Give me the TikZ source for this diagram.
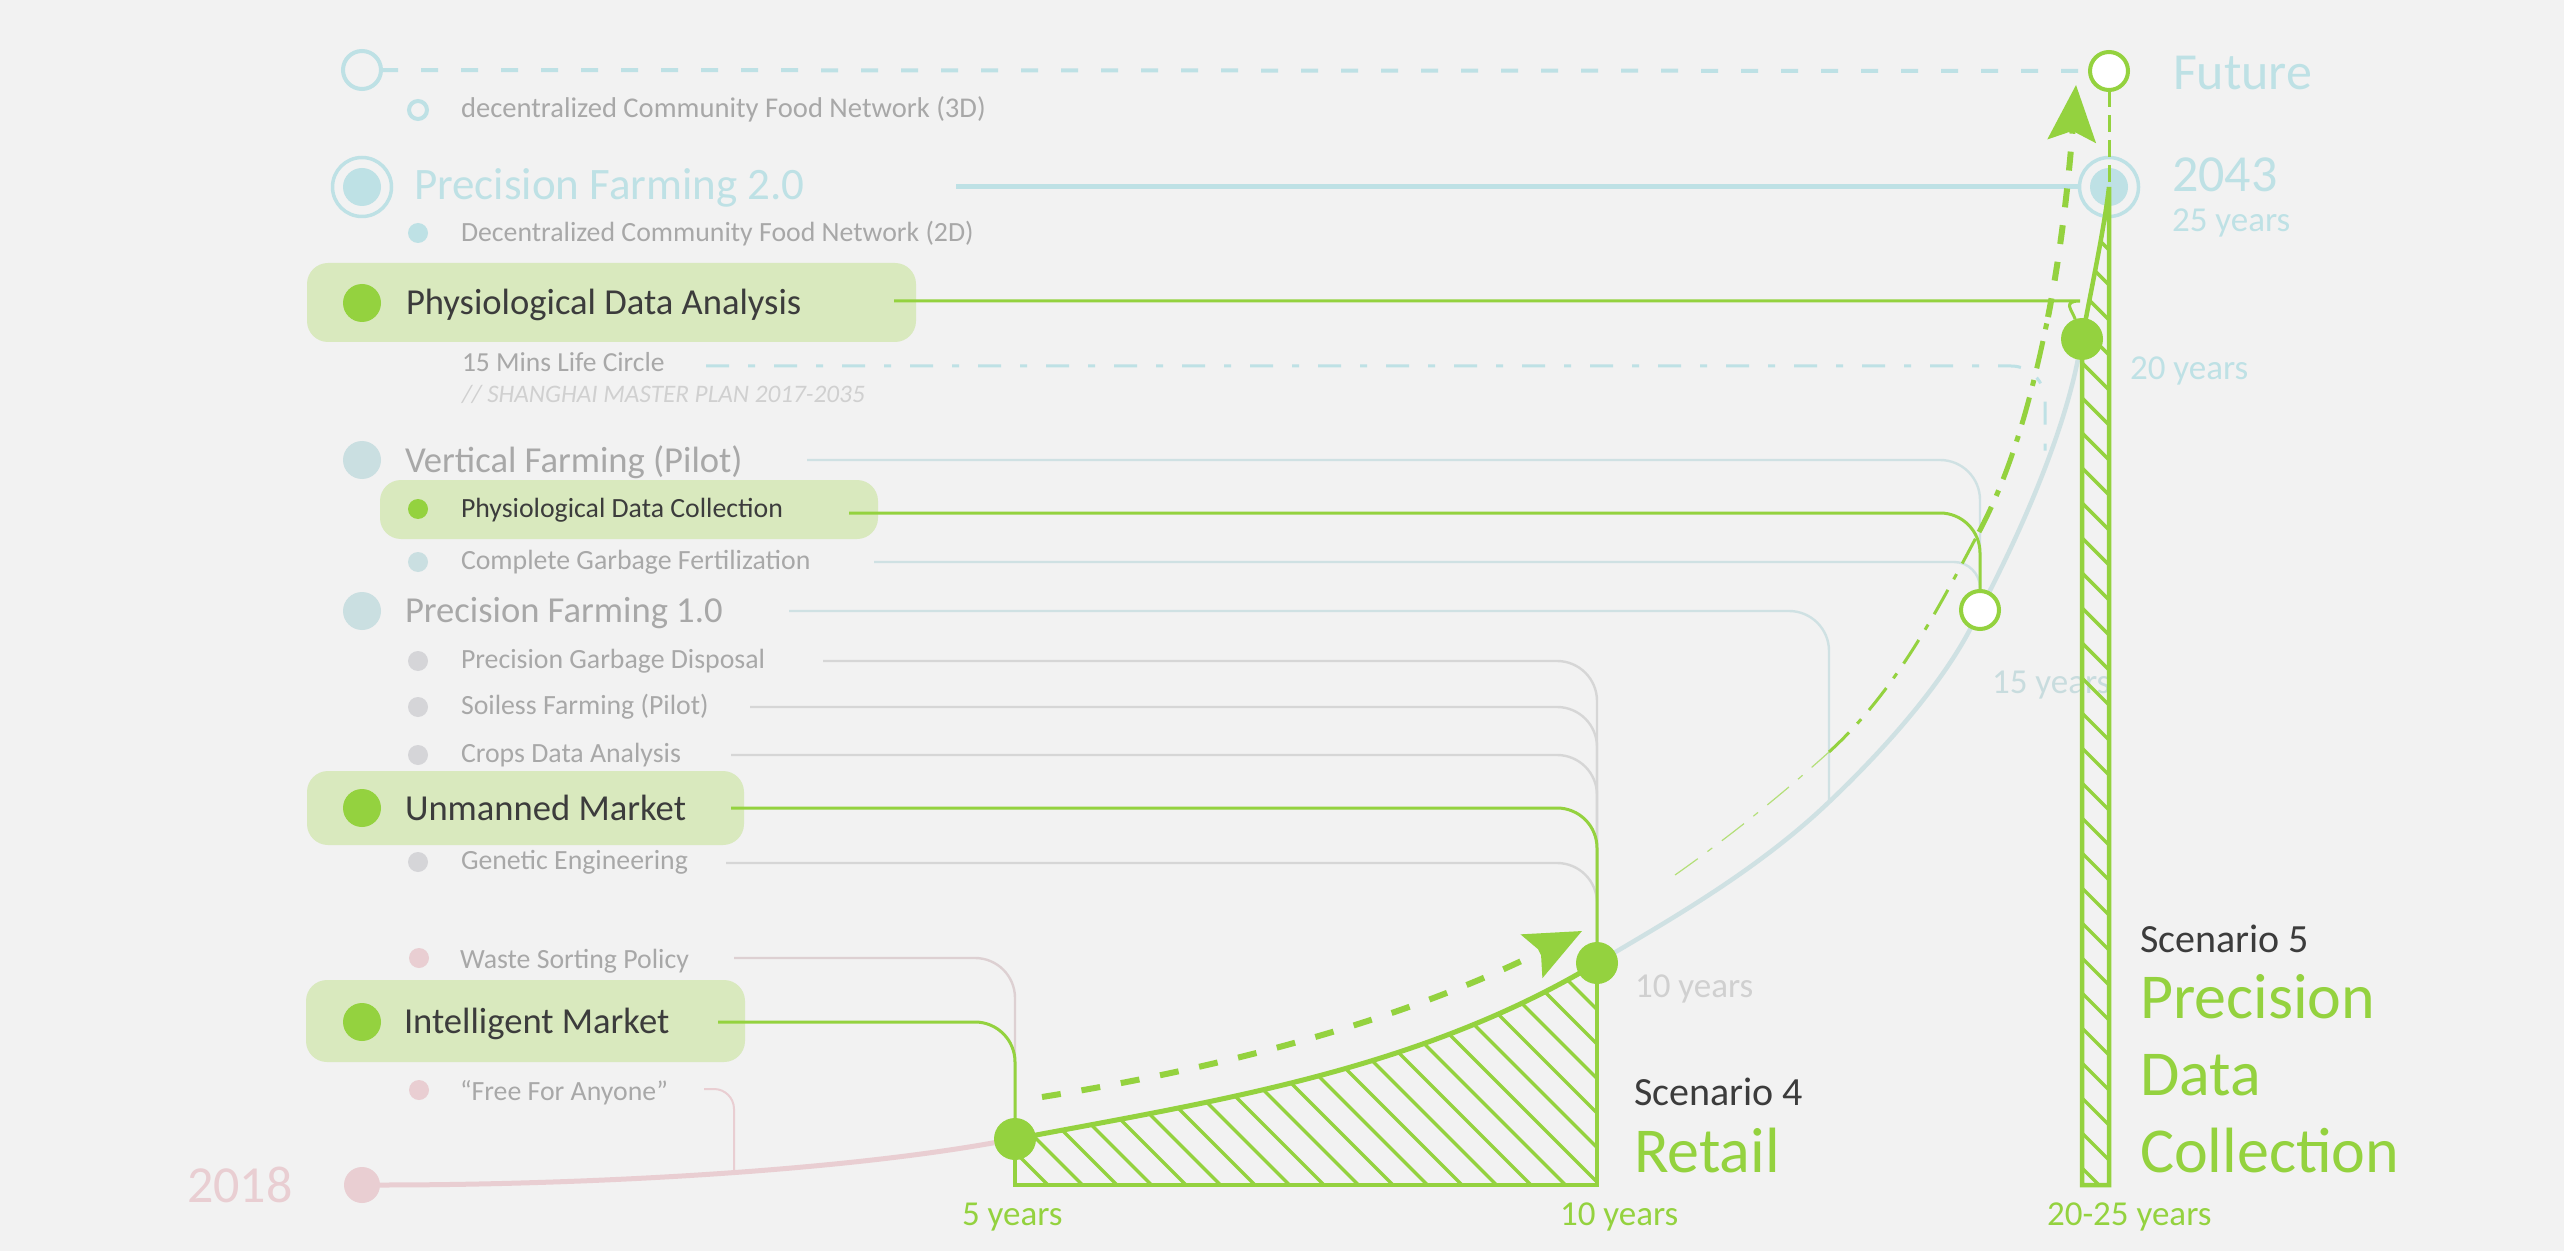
\documentclass[tikz,border=0pt]{standalone}
\usepackage{fontspec}
\setmainfont{Carlito}
\usetikzlibrary{arrows.meta,calc,positioning}
\definecolor{bgc}{HTML}{F2F2F2}
\definecolor{grn}{HTML}{94D23F}
\definecolor{grnbox}{HTML}{D9E9BE}
\definecolor{ink}{HTML}{3C3C3C}
\definecolor{cyn}{HTML}{BEE1E5}
\definecolor{cyngr}{HTML}{CADFE1}
\definecolor{cynl}{HTML}{CFE1E3}
\definecolor{cyngt}{HTML}{C8DCDE}
\definecolor{gryd}{HTML}{D5D5D8}
\definecolor{gryl}{HTML}{D6D6D6}
\definecolor{gryt}{HTML}{A8A8A8}
\definecolor{grylt}{HTML}{D0D0D0}
\definecolor{pnk}{HTML}{E9CED2}
\definecolor{pnkl}{HTML}{DDD0D2}
\pgfdeclarelayer{back}
\pgfdeclarelayer{wires}
\pgfsetlayers{back,wires,main}
\tikzset{
    >=Stealth,
    plan/.style={
        bullet/.append style={circle,inner sep=0pt,outer sep=0pt,minimum size=19pt},
        pip/.append style={circle,inner sep=0pt,outer sep=0pt,minimum size=10pt},
        halo/.append style={circle,draw=cyn,line width=1.75pt,inner sep=0pt,outer sep=0pt,minimum size=29.5pt},
        hollow/.append style={circle,draw=grn,fill=white,line width=2pt,inner sep=0pt,outer sep=0pt,minimum size=19pt},
        gbox/.append style={rectangle,rounded corners=10.5pt,fill=grnbox,inner sep=0pt},
        lbl/.append style={anchor=base west,inner sep=0pt,outer sep=0pt},
        wire/.append style={draw=gryl,line width=1.2pt,rounded corners=20pt},
        flow/.append style={draw=grn,line width=3pt},
        hatch/.append style={draw=grn,line width=1.75pt},
        tipx/.append style={-{Stealth[length=28pt,width=24pt,inset=5pt]}}
    }
}
\newcommand{\fsz}[1]{\fontsize{#1pt}{#1pt}\selectfont}

\begin{document}
\begin{tikzpicture}[plan,x=0.5pt,y=-0.5pt]
    \begin{pgfonlayer}{back}
        \fill[bgc] (0,0) rectangle (2564,1251);
        \node[gbox,minimum width=304.5pt,minimum height=39.5pt] (pdaB) at (611.5,302.5) {};
        \node[gbox,minimum width=249pt,minimum height=29.5pt] (pdcB) at (629,509.5) {};
        \node[gbox,minimum width=218.5pt,minimum height=37pt] (umB) at (525.5,808) {};
        \node[gbox,minimum width=219.5pt,minimum height=41pt] (imB) at (525.5,1021) {};
        \node[halo] (y43) at (2109,187) {};
        \node[bullet,fill=cyn] (y43c) at (2109,187) {};
        \node[lbl,text=cyngt,font=\fsz{17.5}] (t15) at (1992,693) {15 years};
    \end{pgfonlayer}
    \useasboundingbox (0,0) rectangle (2564,1251);

    \node[halo,line width=2pt,minimum size=19pt] (f0) at (362,70) {};
    \node[halo,line width=2pt,minimum size=9pt] (d3D) at (418,110) {};
    \node[halo] (pf2) at (362,187) {};
    \node[bullet,fill=cyn] (pf2c) at (362,187) {};
    \node[pip,fill=cyn] (d2D) at (418,233) {};
    \node[bullet,fill=grn] (pdaD) at (362,303) {};
    \node[bullet,fill=cyngr] (vfD) at (362,460) {};
    \node[pip,fill=grn] (pdcD) at (418,509) {};
    \node[pip,fill=cyngr] (cgfD) at (418,562) {};
    \node[bullet,fill=cyngr] (pf1D) at (362,611) {};
    \node[pip,fill=gryd] (pgdD) at (418,661) {};
    \node[pip,fill=gryd] (sfD) at (418,707) {};
    \node[pip,fill=gryd] (cdaD) at (418,755) {};
    \node[bullet,fill=grn] (umD) at (362,808) {};
    \node[pip,fill=gryd] (geD) at (418,862) {};
    \node[pip,fill=pnk] (wspD) at (419,958) {};
    \node[bullet,fill=grn] (imD) at (362,1022) {};
    \node[pip,fill=pnk] (ffaD) at (419,1090) {};
    \node[bullet,fill=pnk,minimum size=18pt] (y18) at (362,1185) {};
    \node[bullet,fill=grn,minimum size=21pt] (c5) at (1015,1139) {};
    \node[bullet,fill=grn,minimum size=21pt] (c10) at (1597,963) {};
    \node[hollow] (c15) at (1980,610) {};
    \node[bullet,fill=grn,minimum size=21pt] (c20) at (2082,339) {};
    \node[hollow] (fut) at (2109,71) {};

    \node[lbl,text=gryt,font=\fsz{14.3}] (t3D) at (461,118) {decentralized Community Food Network (3D)};
    \node[lbl,text=cyn,font=\fsz{22.5}] (tpf2) at (414,200) {Precision Farming 2.0};
    \node[lbl,text=gryt,font=\fsz{13.9}] (t2D) at (461,242) {Decentralized Community Food Network (2D)};
    \node[lbl,text=ink,font=\fsz{18.3}] (tpda) at (406,315) {Physiological Data Analysis};
    \node[lbl,text=gryt,font=\fsz{13.75}] (t15m) at (462,372) {15 Mins Life Circle};
    \node[lbl,text=grylt,font=\fsz{12.6}\itshape] (tsh) at (462,402) {// SHANGHAI MASTER PLAN 2017-2035};
    \node[lbl,text=gryt,font=\fsz{18.3}] (tvf) at (405,473) {Vertical Farming (Pilot)};
    \node[lbl,text=ink,font=\fsz{13.9}] (tpdc) at (461,517) {Physiological Data Collection};
    \node[lbl,text=gryt,font=\fsz{13.9}] (tcgf) at (461,569) {Complete Garbage Fertilization};
    \node[lbl,text=gryt,font=\fsz{18.3}] (tpf1) at (405,622) {Precision Farming 1.0};
    \node[lbl,text=gryt,font=\fsz{13.9}] (tpgd) at (461,668) {Precision Garbage Disposal};
    \node[lbl,text=gryt,font=\fsz{13.9}] (tsf) at (461,714) {Soiless Farming (Pilot)};
    \node[lbl,text=gryt,font=\fsz{13.9}] (tcda) at (461,762) {Crops Data Analysis};
    \node[lbl,text=ink,font=\fsz{18.3}] (tum) at (405,820) {Unmanned Market};
    \node[lbl,text=gryt,font=\fsz{13.9}] (tge) at (461,869) {Genetic Engineering};
    \node[lbl,text=gryt,font=\fsz{13.9}] (twsp) at (460,968) {Waste Sorting Policy};
    \node[lbl,text=ink,font=\fsz{18.3}] (tim) at (404,1033) {Intelligent Market};
    \node[lbl,text=gryt,font=\fsz{13.9}] (tffa) at (460,1100) {“Free For Anyone”};
    \node[lbl,text=pnk,font=\fsz{26}] (t18) at (187,1202) {2018};

    \node[lbl,text=cyn,font=\fsz{26}] (tfut) at (2173,90) {Future};
    \node[lbl,text=cyn,font=\fsz{26}] (t43) at (2172,192) {2043};
    \node[lbl,text=cyn,font=\fsz{17.5}] (t25) at (2172,232) {25 years};
    \node[lbl,text=cyn,font=\fsz{17.5}] (t20) at (2130,380) {20 years};
    \node[lbl,text=grylt,font=\fsz{17.5}] (t10) at (1635,997) {10 years};
    \node[lbl,text=ink,font=\fsz{20}] (ts4) at (1634,1105) {Scenario 4};
    \node[lbl,text=grn,font=\fsz{32}] (tret) at (1634,1172) {Retail};
    \node[lbl,text=ink,font=\fsz{20}] (ts5) at (2140,952) {Scenario 5};
    \node[lbl,text=grn,font=\fsz{32}] (tpre) at (2140,1018) {Precision};
    \node[lbl,text=grn,font=\fsz{32}] (tdat) at (2140,1095) {Data};
    \node[lbl,text=grn,font=\fsz{32}] (tcol) at (2140,1172) {Collection};
    \node[lbl,text=grn,font=\fsz{17.5}] (b5) at (962,1225) {5 years};
    \node[lbl,text=grn,font=\fsz{17.5}] (b10) at (1560,1225) {10 years};
    \node[lbl,text=grn,font=\fsz{17.5}] (b25) at (2047,1225) {20-25 years};

    \coordinate (pf2L) at (956,187);
    \coordinate (pdaL) at (894,301);
    \coordinate (m15L) at (706,366);
    \coordinate (m15E) at (2045,463);
    \coordinate (vfL) at (807,460);
    \coordinate (pdcL) at (849,513);
    \coordinate (cgfL) at (874,562);
    \coordinate (pf1L) at (789,611);
    \coordinate (pf1E) at (1829,802);
    \coordinate (pgdL) at (823,661);
    \coordinate (sfL) at (750,707);
    \coordinate (cdaL) at (731,755);
    \coordinate (umL) at (731,808);
    \coordinate (geL) at (726,863);
    \coordinate (wspL) at (734,958);
    \coordinate (imL) at (718,1022);
    \coordinate (ffaL) at (704,1089);
    \coordinate (ffaE) at (734,1173);
    \coordinate (s4base) at (1597,1185);
    \coordinate (s5base) at (2109,1185);
    \coordinate (a4s) at (1042,1097);
    \coordinate (a4e) at (1582,931);
    \coordinate (a5s) at (1675,875);
    \coordinate (a5m1) at (1829,752);
    \coordinate (a5m2) at (1979,532);
    \coordinate (a5m3) at (2048,317);
    \coordinate (a5e) at (2076,85);

    \begin{pgfonlayer}{wires}
        \draw[cyn,line width=2pt,dash pattern=on 8.5pt off 11.5pt] (f0) -- (fut);
        \draw[cyn,line width=2.5pt] (pf2L) -- (y43.west);
        \draw[wire,cyn,line width=1.5pt,rounded corners=17pt,dash pattern=on 11.5pt off 9.5pt on 3.5pt off 9.5pt] (m15L) -| (m15E);
        \draw[wire,cynl] (vfL) -| (c15.north);
        \draw[wire,cynl,rounded corners=13pt] (cgfL) -| (c15.north);
        \draw[wire,cynl] (pf1L) -| (pf1E);
        \foreach \a in {pgdL,sfL,cdaL,geL}
            \draw[wire] (\a) -| (c10.north);
        \draw[wire,pnkl] (wspL) -| (c5.north);
        \draw[wire,pnk,line width=1pt,rounded corners=10pt] (ffaL) -| (ffaE);
        \draw[wire,grn,line width=1.5pt] (umL) -| (c10.north);
        \draw[wire,grn,line width=1.5pt] (pdcL) -| (c15.north);
        \draw[wire,grn,line width=1.5pt] (imL) -| (c5.north);
        \draw[wire,grn,line width=1.5pt] (pdaL) -- (2040,301) .. controls (2062,301) and (2072,310) .. (c20);

        \draw[pnk,line width=2.5pt] (y18) .. controls (580,1185) and (830,1172) .. (c5);
        \draw[cynl,line width=2.25pt] (c10) .. controls (1678,915) and (1761,867) .. (1829,802)
            .. controls (1888,746) and (1943,682) .. (c15)
            .. controls (2024,524) and (2063,434) .. (c20);

        \begin{scope}
            \clip (c5.center) .. controls (1215,1101) and (1417,1071) .. (c10.center) -- (s4base) -| (c5.center) -- cycle;
            \foreach \k in {0,...,26}
                \draw[hatch] ({763+34.5*\k},900) -- ++(300,300);
        \end{scope}
        \draw[grn,line width=2.5pt] (c5.center) .. controls (1215,1101) and (1417,1071) .. (c10.center);
        \draw[grn,line width=2pt] (c5.center) |- (s4base) -- (c10.center);

        \begin{scope}
            \clip (c20.center) .. controls (2091,290) and (2104,230) .. (y43.center) -- (s5base) -| (c20.center) -- cycle;
            \foreach \k in {-8,...,24}
                \draw[hatch] (2060,{341+35*\k}) -- ++(60,60);
        \end{scope}
        \draw[grn,line width=2.25pt] (c20.center) .. controls (2091,290) and (2104,230) .. (y43.center) -- (s5base) -| (c20.center);
        \draw[grn,line width=1.5pt,dash pattern=on 8.5pt off 4pt] (fut) -- (y43.center);

        \draw[flow,tipx,dash pattern=on 9.5pt off 10.5pt] (a4s) .. controls (1222,1068) and (1402,1021) .. (a4e);
        \draw[grn!70,line width=0.6pt,dash pattern=on 14pt off 6pt on 3pt off 6pt] (a5s) .. controls (1729,837) and (1780,796) .. (a5m1);
        \draw[grn,line width=1.5pt,dash pattern=on 14pt off 6pt on 3pt off 6pt] (a5m1) .. controls (1895,692) and (1937,611) .. (a5m2);
        \draw[grn,line width=2.5pt,dash pattern=on 14pt off 6pt on 3pt off 6pt] (a5m2) .. controls (2014,466) and (2033,390) .. (a5m3);
        \draw[flow,tipx,dash pattern=on 9.5pt off 9pt] (a5m3) .. controls (2063,241) and (2070,163) .. (a5e);
    \end{pgfonlayer}
\end{tikzpicture}
\end{document}
